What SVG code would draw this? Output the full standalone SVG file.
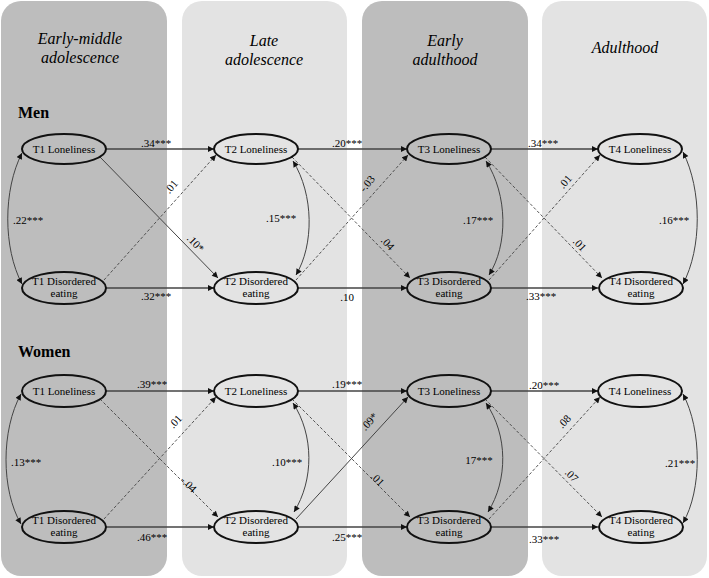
<svg xmlns="http://www.w3.org/2000/svg" width="709" height="578" viewBox="0 0 709 578">
<defs>
<style>
.pd{fill:#bdbdbd}
.pl{fill:#e3e3e3}
.h{font-family:"Liberation Serif","Times New Roman",serif;font-style:italic;font-size:16px;fill:#000;text-anchor:middle}
.g{font-family:"Liberation Serif","Times New Roman",serif;font-weight:bold;font-size:16px;fill:#000}
.n{font-family:"Liberation Serif","Times New Roman",serif;font-size:11px;fill:#000;text-anchor:middle}
.l{font-family:"Liberation Serif","Times New Roman",serif;font-size:11px;fill:#000;text-anchor:middle}
ellipse{fill:none;stroke:#111;stroke-width:2}
.s{fill:none;stroke:#444;stroke-width:1.3;marker-end:url(#a)}
.sd{fill:none;stroke:#444;stroke-width:1;marker-end:url(#a)}
.d{fill:none;stroke:#444;stroke-width:0.9;stroke-dasharray:3 2;marker-end:url(#a)}
.c{fill:none;stroke:#444;stroke-width:1;marker-start:url(#a);marker-end:url(#a)}
</style>
<marker id="a" viewBox="0 0 10 10" refX="10" refY="5" markerWidth="7" markerHeight="6" markerUnits="userSpaceOnUse" orient="auto-start-reverse">
<path d="M0,0 L10,5 L0,10 z" fill="#111"/>
</marker>
</defs>
<rect width="709" height="578" fill="#fff"/>
<g id="panels">
<rect class="pd" x="1" y="1" width="166" height="575" rx="20"/>
<rect class="pl" x="182" y="1" width="165" height="575" rx="20"/>
<rect class="pd" x="362" y="1" width="166" height="575" rx="20"/>
<rect class="pl" x="542" y="1" width="165" height="575" rx="20"/>
</g>
<g id="headers">
<text class="h" x="80" y="44">Early-middle</text>
<text class="h" x="80" y="63">adolescence</text>
<text class="h" x="264" y="46">Late</text>
<text class="h" x="264" y="65">adolescence</text>
<text class="h" x="445" y="46">Early</text>
<text class="h" x="445" y="65">adulthood</text>
<text class="h" x="625" y="53">Adulthood</text>
<text class="g" x="18" y="118">Men</text>
<text class="g" x="18" y="357">Women</text>
</g>
<g id="connectors">
<path class="s" d="M106,149 H214"/>
<path class="s" d="M106,288 H214"/>
<path class="s" d="M298,149 H407"/>
<path class="s" d="M298,288 H407"/>
<path class="s" d="M491,149 H598"/>
<path class="s" d="M491,288 H598"/>
<path class="sd" d="M100,157 L218,278"/>
<path class="d" d="M104,280 L216,155"/>
<path class="d" d="M292,157 L410,278"/>
<path class="d" d="M296,280 L408,155"/>
<path class="d" d="M485,157 L602,278"/>
<path class="d" d="M489,280 L600,155"/>
<path class="c" d="M22,153 C3,190 3,248 22,284"/>
<path class="c" d="M293,161 C314,195 314,245 296,275"/>
<path class="c" d="M486,161 C508,195 508,245 489,275"/>
<path class="c" d="M683,152 C702,190 702,248 683,284"/>
<path class="s" d="M106,391 H214"/>
<path class="s" d="M106,527 H214"/>
<path class="s" d="M298,391 H407"/>
<path class="s" d="M298,527 H407"/>
<path class="s" d="M491,391 H598"/>
<path class="s" d="M491,527 H598"/>
<path class="d" d="M100,399 L218,517"/>
<path class="d" d="M104,519 L216,397"/>
<path class="d" d="M292,399 L410,517"/>
<path class="sd" d="M296,519 L408,397"/>
<path class="d" d="M485,399 L602,517"/>
<path class="d" d="M489,519 L600,397"/>
<path class="c" d="M21,394 C1,430 1,490 21,524"/>
<path class="c" d="M293,403 C314,435 314,480 294,512"/>
<path class="c" d="M486,403 C508,435 508,480 488,512"/>
<path class="c" d="M683,394 C702,430 702,490 683,523"/>
</g>
<g id="labels">
<text class="l" x="156" y="147">.34***</text>
<text class="l" x="156" y="300">.32***</text>
<text class="l" x="347" y="147">.20***</text>
<text class="l" x="347" y="301">.10</text>
<text class="l" x="543" y="147">.34***</text>
<text class="l" x="541" y="300">.33***</text>
<text class="l" transform="translate(174,189) rotate(-50)">.01</text>
<text class="l" transform="translate(193,246) rotate(46)">.10*</text>
<text class="l" transform="translate(370,186) rotate(-50)">-.03</text>
<text class="l" transform="translate(385,246) rotate(47)">.04</text>
<text class="l" transform="translate(568,184) rotate(-50)">.01</text>
<text class="l" transform="translate(577,247) rotate(47)">.01</text>
<text class="l" x="28" y="224">.22***</text>
<text class="l" x="281" y="222">.15***</text>
<text class="l" x="478" y="224">.17***</text>
<text class="l" x="674" y="224">.16***</text>
<text class="l" x="152" y="388">.39***</text>
<text class="l" x="152" y="541">.46***</text>
<text class="l" x="347" y="388">.19***</text>
<text class="l" x="347" y="541">.25***</text>
<text class="l" x="544" y="389">.20***</text>
<text class="l" x="544" y="543">.33***</text>
<text class="l" transform="translate(178,424) rotate(-48)">.01</text>
<text class="l" transform="translate(186,487) rotate(45)">-.04</text>
<text class="l" transform="translate(372,424) rotate(-48)">.09*</text>
<text class="l" transform="translate(375,482) rotate(45)">.01</text>
<text class="l" transform="translate(567,424) rotate(-48)">.08</text>
<text class="l" transform="translate(569,478) rotate(45)">.07</text>
<text class="l" x="26" y="466">.13***</text>
<text class="l" x="287" y="466">.10***</text>
<text class="l" x="479" y="464">17***</text>
<text class="l" x="680" y="467">.21***</text>
</g>
<g id="m-t1l"><ellipse cx="64" cy="149" rx="42" ry="15"/><text class="n" x="64" y="153">T1 Loneliness</text></g>
<g id="m-t1d"><ellipse cx="64" cy="288" rx="42" ry="16"/><text class="n" x="64" y="285">T1 Disordered</text><text class="n" x="64" y="297">eating</text></g>
<g id="m-t2l"><ellipse cx="256" cy="149" rx="42" ry="15"/><text class="n" x="256" y="153">T2 Loneliness</text></g>
<g id="m-t2d"><ellipse cx="256" cy="288" rx="42" ry="16"/><text class="n" x="256" y="285">T2 Disordered</text><text class="n" x="256" y="297">eating</text></g>
<g id="m-t3l"><ellipse cx="449" cy="149" rx="42" ry="15"/><text class="n" x="449" y="153">T3 Loneliness</text></g>
<g id="m-t3d"><ellipse cx="449" cy="288" rx="42" ry="16"/><text class="n" x="449" y="285">T3 Disordered</text><text class="n" x="449" y="297">eating</text></g>
<g id="m-t4l"><ellipse cx="640" cy="149" rx="42" ry="15"/><text class="n" x="640" y="153">T4 Loneliness</text></g>
<g id="m-t4d"><ellipse cx="641" cy="288" rx="42" ry="16"/><text class="n" x="641" y="285">T4 Disordered</text><text class="n" x="641" y="297">eating</text></g>
<g id="w-t1l"><ellipse cx="64" cy="391" rx="42" ry="16"/><text class="n" x="64" y="395">T1 Loneliness</text></g>
<g id="w-t1d"><ellipse cx="64" cy="527" rx="42" ry="16"/><text class="n" x="64" y="524">T1 Disordered</text><text class="n" x="64" y="536">eating</text></g>
<g id="w-t2l"><ellipse cx="256" cy="391" rx="42" ry="16"/><text class="n" x="256" y="395">T2 Loneliness</text></g>
<g id="w-t2d"><ellipse cx="256" cy="527" rx="42" ry="16"/><text class="n" x="256" y="524">T2 Disordered</text><text class="n" x="256" y="536">eating</text></g>
<g id="w-t3l"><ellipse cx="449" cy="391" rx="42" ry="16"/><text class="n" x="449" y="395">T3 Loneliness</text></g>
<g id="w-t3d"><ellipse cx="449" cy="527" rx="42" ry="16"/><text class="n" x="449" y="524">T3 Disordered</text><text class="n" x="449" y="536">eating</text></g>
<g id="w-t4l"><ellipse cx="640" cy="391" rx="42" ry="16"/><text class="n" x="640" y="395">T4 Loneliness</text></g>
<g id="w-t4d"><ellipse cx="641" cy="527" rx="42" ry="16"/><text class="n" x="641" y="524">T4 Disordered</text><text class="n" x="641" y="536">eating</text></g>
</svg>
